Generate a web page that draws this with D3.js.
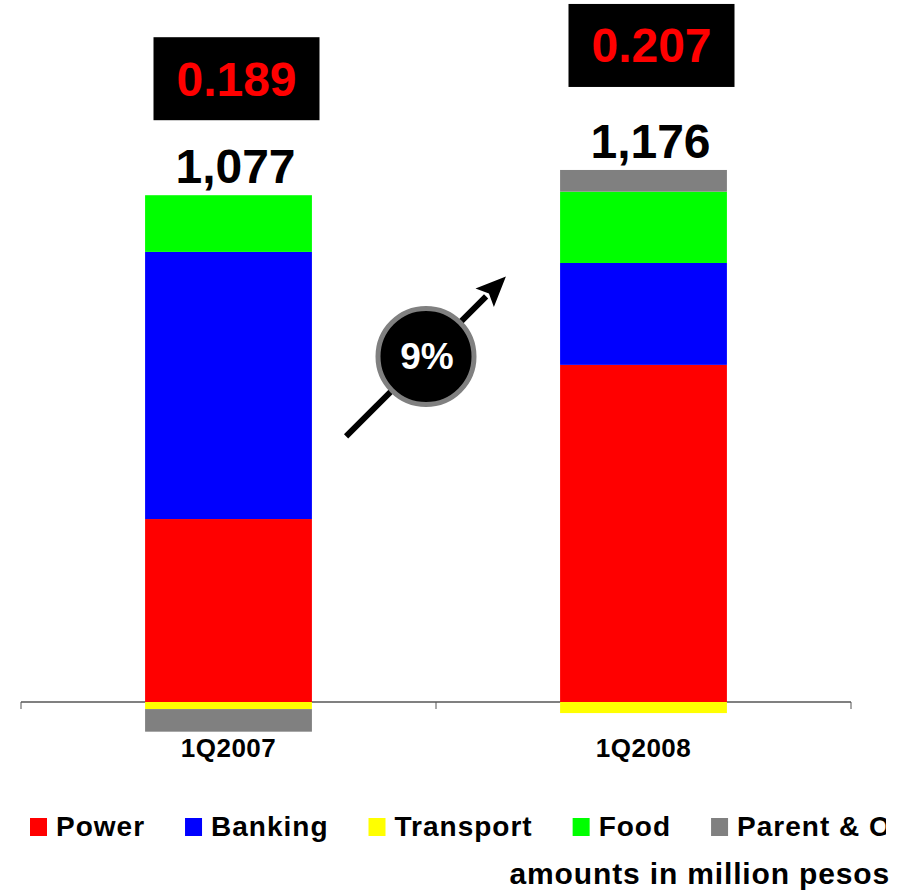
<!DOCTYPE html>
<html>
<head>
<meta charset="utf-8">
<script src="https://cdn.jsdelivr.net/npm/d3@7"></script>
<style>
  body { margin: 0; background: #fff; }
  svg { display: block; font-family: "Liberation Sans", Arial, sans-serif; font-weight: bold; }
</style>
</head>
<body>
<svg id="chart" width="906" height="890"></svg>
<script>
// Quarterly income by business segment (million pesos)
const quarters = ["1Q2007", "1Q2008"];
const segments = ["Power", "Banking", "Transport", "Food", "Parent & Other"];
const power = [413, 761];
const banking = [603, 230];
const transport = [-16, -25];
const food = [128, 161];
const parentOther = [-51, 49];
const ratios = ["0.189", "0.207"];
const growthLabel = "9%";
const segmentColors = ["#ff0000", "#0000ff", "#ffff00", "#00ff00", "#808080"];
const noteText = "amounts in million pesos";

const rows = quarters.map((q, i) => ({
  quarter: q,
  "Power": power[i],
  "Banking": banking[i],
  "Transport": transport[i],
  "Food": food[i],
  "Parent & Other": parentOther[i]
}));

const svg = d3.select("#chart");

const x = d3.scaleBand().domain(quarters).range([21, 851]).paddingInner(0).paddingOuter(0);
const barW = x.bandwidth() * 0.402;
const y = d3.scaleLinear().domain([0, 1500]).range([702, 37.5]);
const color = d3.scaleOrdinal().domain(segments).range(segmentColors);

const series = d3.stack().keys(segments).offset(d3.stackOffsetDiverging)(rows);

// Category axis: baseline with boundary ticks
const axisG = svg.append("g");
axisG.append("line")
  .attr("x1", x.range()[0]).attr("x2", x.range()[1])
  .attr("y1", y(0)).attr("y2", y(0))
  .attr("stroke", "#808080").attr("stroke-width", 2);
const boundaries = quarters.map(q => x(q)).concat([x.range()[1]]);
axisG.selectAll("line.tick").data(boundaries).join("line")
  .attr("class", "tick")
  .attr("x1", d => d).attr("x2", d => d)
  .attr("y1", y(0)).attr("y2", y(0) + 7)
  .attr("stroke", "#555").attr("stroke-width", 1);

// Stacked bars
svg.append("g").selectAll("g").data(series).join("g")
  .attr("fill", d => color(d.key))
  .selectAll("rect").data(d => d).join("rect")
  .attr("x", d => x(d.data.quarter) + (x.bandwidth() - barW) / 2)
  .attr("width", barW)
  .attr("y", d => y(Math.max(d[0], d[1])))
  .attr("height", d => Math.abs(y(d[0]) - y(d[1])));

// Category labels
svg.append("g").selectAll("text").data(quarters).join("text")
  .attr("x", d => x(d) + x.bandwidth() / 2)
  .attr("y", y(0) + 55)
  .attr("text-anchor", "middle")
  .attr("font-size", 26)
  .attr("letter-spacing", 0.5)
  .attr("fill", "#000")
  .text(d => d);

// Totals and ratio boxes
const totals = rows.map(r => d3.sum(segments, k => r[k]));
const posTops = rows.map(r => d3.sum(segments, k => Math.max(0, r[k])));
const fmt = d3.format(",");
const boxLift = [75, 83];

quarters.forEach((q, i) => {
  const cx = x(q) + x.bandwidth() / 2;
  const top = y(posTops[i]);
  svg.append("text")
    .attr("x", cx + 7).attr("y", top - 12)
    .attr("text-anchor", "middle")
    .attr("font-size", 48)
    .attr("fill", "#000")
    .text(fmt(totals[i]));

  const boxW = 166, boxH = 83;
  const boxBottom = top - boxLift[i];
  const bx = cx + 8 - boxW / 2;
  svg.append("rect")
    .attr("x", bx).attr("y", boxBottom - boxH)
    .attr("width", boxW).attr("height", boxH)
    .attr("fill", "#000");
  svg.append("text")
    .attr("x", bx + boxW / 2).attr("y", boxBottom - boxH / 2 + 17)
    .attr("text-anchor", "middle")
    .attr("font-size", 48)
    .attr("fill", "#ff0000")
    .text(ratios[i]);
});

// Growth arrow with badge between the bars
const gx = x(quarters[1]) - 10, gy = y(780);
const half = 113, ang = -Math.PI / 4;
const ux = Math.cos(ang), uy = Math.sin(ang);
const tail = [gx - ux * half, gy - uy * half];
const tip = [gx + ux * half, gy + uy * half];
const headLen = 30, headHalf = 13;
const base = [tip[0] - ux * headLen, tip[1] - uy * headLen];
svg.append("line")
  .attr("x1", tail[0]).attr("y1", tail[1])
  .attr("x2", base[0] + ux * 2).attr("y2", base[1] + uy * 2)
  .attr("stroke", "#000").attr("stroke-width", 6);
svg.append("polygon")
  .attr("points", [
    tip,
    [base[0] - uy * headHalf, base[1] + ux * headHalf],
    [base[0] + ux * 6, base[1] + uy * 6],
    [base[0] + uy * headHalf, base[1] - ux * headHalf]
  ].map(p => p.join(",")).join(" "))
  .attr("fill", "#000");
svg.append("circle")
  .attr("cx", gx).attr("cy", gy).attr("r", 48)
  .attr("fill", "#000").attr("stroke", "#808080").attr("stroke-width", 5);
svg.append("text")
  .attr("x", gx + 1).attr("y", gy + 13)
  .attr("text-anchor", "middle")
  .attr("font-size", 37)
  .attr("fill", "#fff")
  .text(growthLabel);

// Legend, running off the right edge of the slide
svg.append("defs").append("clipPath").attr("id", "legendClip")
  .append("rect").attr("x", 0).attr("y", 790).attr("width", 886).attr("height", 60);
const legend = svg.append("g").attr("clip-path", "url(#legendClip)");
let lx = 30;
segments.forEach((s, i) => {
  legend.append("rect")
    .attr("x", lx).attr("y", 818)
    .attr("width", 17).attr("height", 18)
    .attr("fill", segmentColors[i]);
  const t = legend.append("text")
    .attr("x", lx + 26).attr("y", 836)
    .attr("font-size", 28)
    .attr("letter-spacing", 1.0)
    .attr("fill", "#000")
    .text(s);
  lx += 26 + t.node().getComputedTextLength() + 40;
});

svg.append("text")
  .attr("x", 890).attr("y", 884)
  .attr("text-anchor", "end")
  .attr("font-size", 30)
  .attr("letter-spacing", 0.85)
  .attr("fill", "#000")
  .text(noteText);
</script>
</body>
</html>
